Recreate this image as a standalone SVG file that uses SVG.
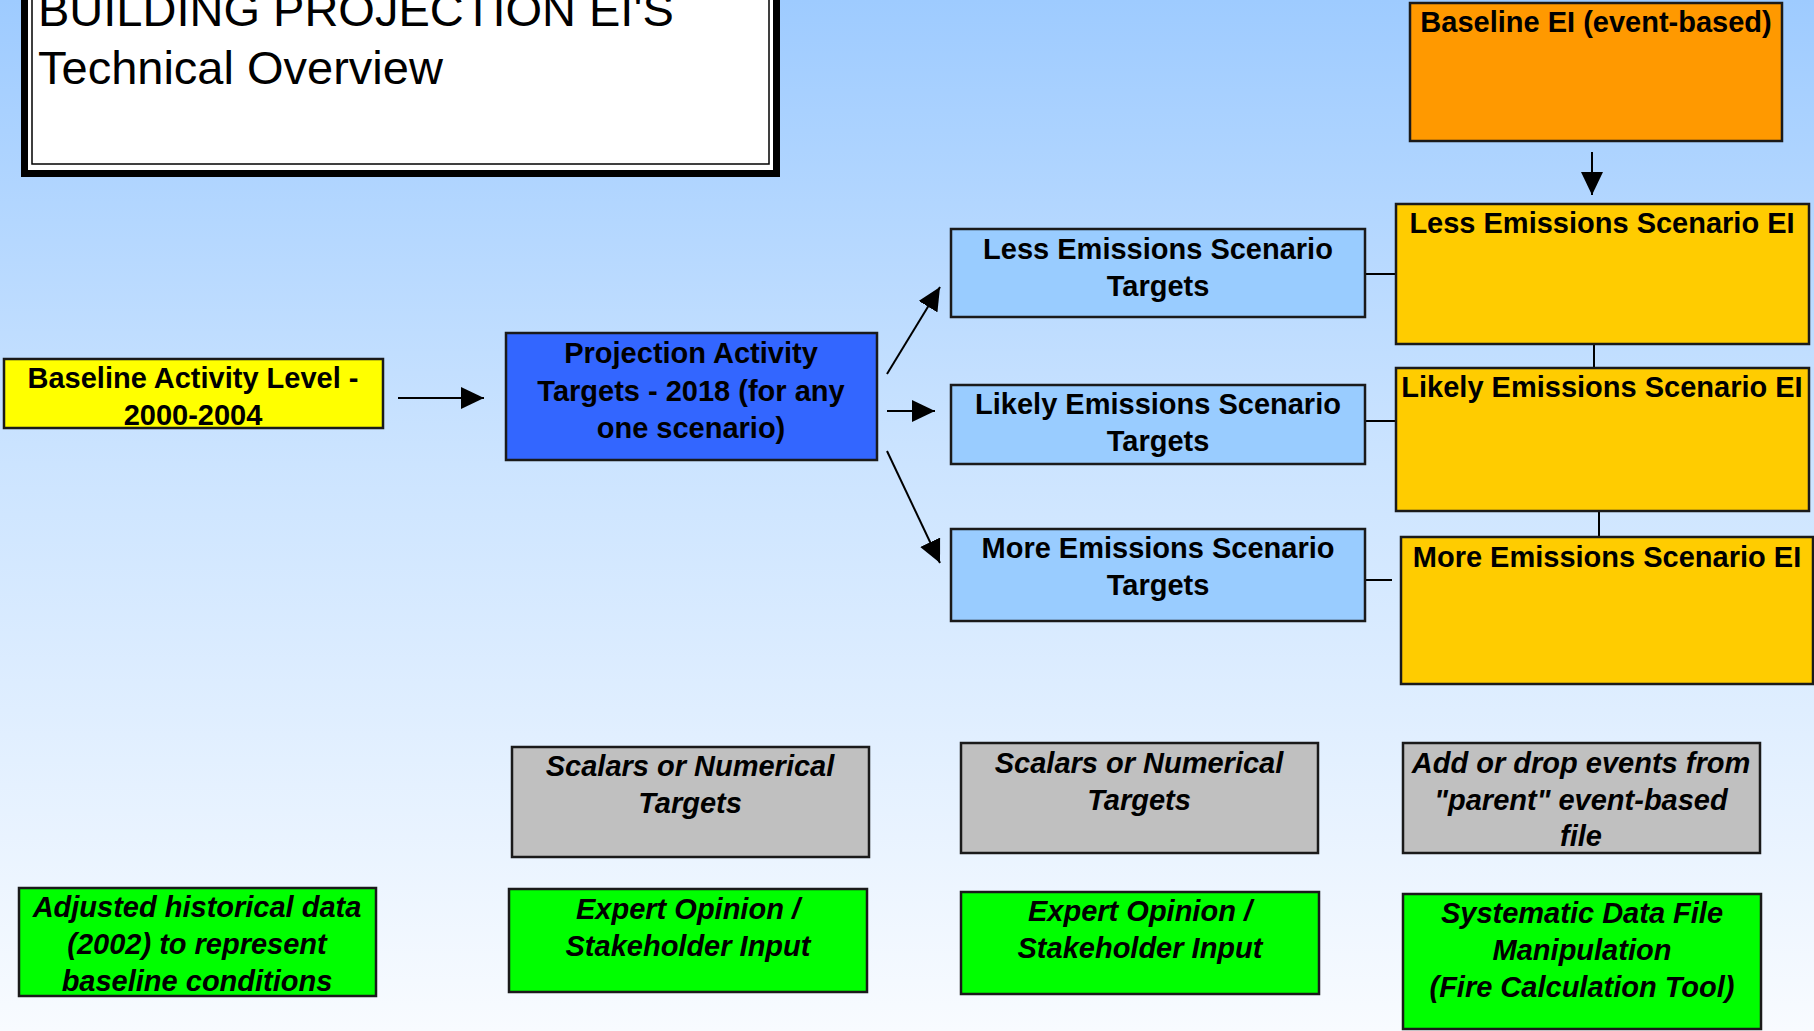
<svg xmlns="http://www.w3.org/2000/svg" width="1814" height="1031" viewBox="0 0 1814 1031">
<defs>
<linearGradient id="bg" x1="0" y1="0" x2="0" y2="1">
<stop offset="0" stop-color="#9ECBFF"/>
<stop offset="0.45" stop-color="#CCE4FF"/>
<stop offset="1" stop-color="#F8FBFF"/>
</linearGradient>
<marker id="ah" markerUnits="userSpaceOnUse" markerWidth="23" markerHeight="22" refX="23" refY="11" orient="auto" viewBox="0 0 23 22">
<path d="M0,0 L23,11 L0,22 z" fill="#000"/>
</marker>
<style>
.box{stroke:#1a1a1a;stroke-width:2.5}
.t{font-family:"Liberation Sans",Arial,sans-serif;font-weight:bold;font-size:29px;fill:#000;text-anchor:middle}
.ti{font-family:"Liberation Sans",Arial,sans-serif;font-weight:bold;font-style:italic;font-size:29px;fill:#000;text-anchor:middle}
.conn{stroke:#000;stroke-width:2;fill:none}
.arr{stroke:#000;stroke-width:2;fill:none;marker-end:url(#ah)}
</style>
</defs>
<rect x="0" y="0" width="1814" height="1031" fill="url(#bg)"/>

<g id="title">
<rect x="21" y="-20" width="759" height="197" fill="#000"/>
<rect x="28" y="-20" width="745" height="190" fill="#fff"/>
<rect x="32" y="-20" width="737" height="184" fill="none" stroke="#000" stroke-width="1.5"/>
<text x="38" y="26" font-family="Liberation Sans, Arial, sans-serif" font-size="47" fill="#000">BUILDING PROJECTION EI'S</text>
<text x="38" y="84" font-family="Liberation Sans, Arial, sans-serif" font-size="47" fill="#000">Technical Overview</text>
</g>

<g id="connectors">
<line class="arr" x1="1592" y1="152" x2="1592" y2="195"/>
<line class="arr" x1="398" y1="398" x2="484" y2="398"/>
<line class="arr" x1="887" y1="374" x2="940" y2="287"/>
<line class="arr" x1="887" y1="411" x2="935" y2="411"/>
<line class="arr" x1="887" y1="451" x2="940" y2="563"/>
<line class="conn" x1="1365" y1="274" x2="1396" y2="274"/>
<line class="conn" x1="1365" y1="421" x2="1396" y2="421"/>
<line class="conn" x1="1365" y1="580" x2="1392" y2="580"/>
<line class="conn" x1="1594" y1="340" x2="1594" y2="368"/>
<line class="conn" x1="1599" y1="511" x2="1599" y2="537"/>
</g>

<g id="baseline-ei">
<rect class="box" x="1410" y="3" width="372" height="138" fill="#FF9900"/>
<text class="t" x="1596" y="32">Baseline EI (event-based)</text>
</g>

<g id="less-ei">
<rect class="box" x="1396" y="204" width="413" height="140" fill="#FFCC00"/>
<text class="t" x="1602" y="233">Less Emissions Scenario EI</text>
</g>

<g id="likely-ei">
<rect class="box" x="1396" y="368" width="413" height="143" fill="#FFCC00"/>
<text class="t" x="1602" y="397">Likely Emissions Scenario EI</text>
</g>

<g id="more-ei">
<rect class="box" x="1401" y="537" width="412" height="147" fill="#FFCC00"/>
<text class="t" x="1607" y="567">More Emissions Scenario EI</text>
</g>

<g id="baseline-activity">
<rect class="box" x="4" y="359" width="379" height="69" fill="#FFFF00"/>
<text class="t" x="193" y="388">Baseline Activity Level -</text>
<text class="t" x="193" y="425">2000-2004</text>
</g>

<g id="projection">
<rect class="box" x="506" y="333" width="371" height="127" fill="#3366FF"/>
<text class="t" x="691" y="363">Projection Activity</text>
<text class="t" x="691" y="401">Targets - 2018 (for any</text>
<text class="t" x="691" y="438">one scenario)</text>
</g>

<g id="less-targets">
<rect class="box" x="951" y="229" width="414" height="88" fill="#99CCFF"/>
<text class="t" x="1158" y="259">Less Emissions Scenario</text>
<text class="t" x="1158" y="296">Targets</text>
</g>

<g id="likely-targets">
<rect class="box" x="951" y="385" width="414" height="79" fill="#99CCFF"/>
<text class="t" x="1158" y="414">Likely Emissions Scenario</text>
<text class="t" x="1158" y="451">Targets</text>
</g>

<g id="more-targets">
<rect class="box" x="951" y="529" width="414" height="92" fill="#99CCFF"/>
<text class="t" x="1158" y="558">More Emissions Scenario</text>
<text class="t" x="1158" y="595">Targets</text>
</g>

<g id="scalars-1">
<rect class="box" x="512" y="747" width="357" height="110" fill="#C0C0C0"/>
<text class="ti" x="690" y="776">Scalars or Numerical</text>
<text class="ti" x="690" y="813">Targets</text>
</g>

<g id="scalars-2">
<rect class="box" x="961" y="743" width="357" height="110" fill="#C0C0C0"/>
<text class="ti" x="1139" y="773">Scalars or Numerical</text>
<text class="ti" x="1139" y="810">Targets</text>
</g>

<g id="add-drop">
<rect class="box" x="1403" y="743" width="357" height="110" fill="#C0C0C0"/>
<text class="ti" x="1581" y="773">Add or drop events from</text>
<text class="ti" x="1581" y="810">"parent" event-based</text>
<text class="ti" x="1581" y="846">file</text>
</g>

<g id="adjusted-historical">
<rect class="box" x="19" y="888" width="357" height="108" fill="#00FF00"/>
<text class="ti" x="197" y="917">Adjusted historical data</text>
<text class="ti" x="197" y="954">(2002) to represent</text>
<text class="ti" x="197" y="991">baseline conditions</text>
</g>

<g id="expert-1">
<rect class="box" x="509" y="889" width="358" height="103" fill="#00FF00"/>
<text class="ti" x="688" y="919">Expert Opinion /</text>
<text class="ti" x="688" y="956">Stakeholder Input</text>
</g>

<g id="expert-2">
<rect class="box" x="961" y="892" width="358" height="102" fill="#00FF00"/>
<text class="ti" x="1140" y="921">Expert Opinion /</text>
<text class="ti" x="1140" y="958">Stakeholder Input</text>
</g>

<g id="systematic">
<rect class="box" x="1403" y="894" width="358" height="135" fill="#00FF00"/>
<text class="ti" x="1582" y="923">Systematic Data File</text>
<text class="ti" x="1582" y="960">Manipulation</text>
<text class="ti" x="1582" y="997">(Fire Calculation Tool)</text>
</g>
</svg>
